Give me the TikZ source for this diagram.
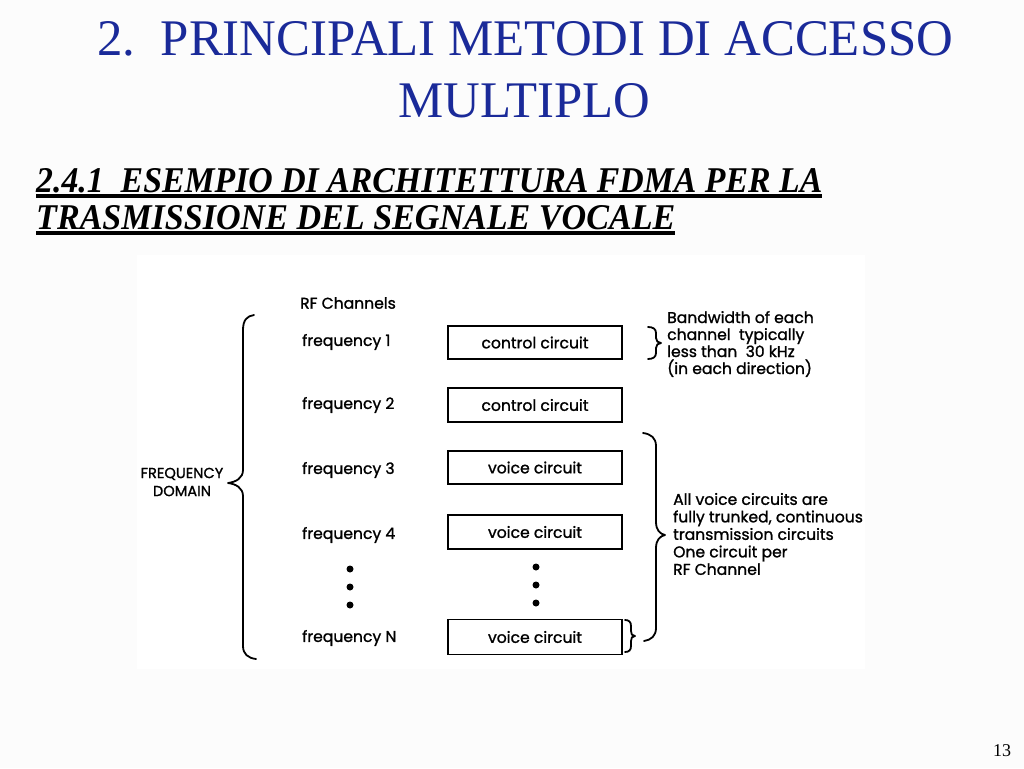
\documentclass[tikz,border=0pt]{standalone}
\usepackage{fontspec}
\setmainfont{Liberation Serif}
\newfontfamily\diagfont[FakeBold=1.2]{Poppins}
\usepackage{graphicx}
\definecolor{titleblue}{RGB}{26,42,153}
\definecolor{slidebg}{RGB}{252,252,252}
\begin{document}
\begin{tikzpicture}[x=1pt,y=-1pt,
  lbl/.style={font=\diagfont\fontsize{15.6}{17}\selectfont, inner sep=0},
  circbox/.style={draw, line width=1.8pt, minimum width=174pt, minimum height=34pt, inner sep=0, font=\diagfont\fontsize{15.6}{17}\selectfont},
  bracepath/.style={line width=1.8pt, line cap=round, line join=round},
  bigdot/.style={circle, fill, inner sep=0, minimum size=7pt},
  uline/.style={line width=3.5pt}]
\useasboundingbox (0,0) rectangle (1024,768);
\fill[slidebg] (0,0) rectangle (1024,768);
\fill[white] (137,255) rectangle (865,669);

% titles
\node[anchor=north west, inner sep=0, text=titleblue] (t1) at (97,21)
  {\resizebox{856pt}{34pt}{2.\ \ PRINCIPALI METODI DI ACCESSO}};
\node[anchor=north west, inner sep=0, text=titleblue] (t2) at (398,83)
  {\resizebox{252pt}{34pt}{MULTIPLO}};
\node[anchor=north west, inner sep=0] (s1) at (36,168)
  {\resizebox{786pt}{24pt}{\bfseries\itshape 2.4.1\ \ ESEMPIO DI ARCHITETTURA FDMA PER LA}};
\node[anchor=north west, inner sep=0] (s2) at (36,205)
  {\resizebox{639pt}{24pt}{\bfseries\itshape TRASMISSIONE DEL SEGNALE VOCALE}};
\draw[uline] (36,196) -- (822,196);
\draw[uline] (36,233) -- (675,233);
\node[font=\fontsize{18}{20}\selectfont, inner sep=0] (pg) at (1002,751) {13};

% diagram
\node[lbl] (rf) at (348,303) {RF Channels};
\node[lbl, anchor=west] (f1) at (302,342) {frequency 1};
\node[lbl, anchor=west] (f2) at (302,405) {frequency 2};
\node[lbl, anchor=west] (f3) at (302,470) {frequency 3};
\node[lbl, anchor=west] (f4) at (302,535) {frequency 4};
\node[lbl, anchor=west] (fN) at (302,638) {frequency N};
\node[bigdot] (dl1) at (350,569) {};
\node[bigdot] (dl2) at (350,587) {};
\node[bigdot] (dl3) at (350,605) {};

\node[circbox, minimum height=33pt] (c1) at (535,342.5) {control circuit};
\node[circbox] (c2) at (535,405) {control circuit};
\node[circbox, minimum height=33pt] (v3) at (535,467.5) {voice circuit};
\node[circbox] (v4) at (535,532) {voice circuit};
\node[circbox, minimum height=35pt] (vN) at (535,637) {voice circuit};
\node[bigdot] (dr1) at (536,567) {};
\node[bigdot] (dr2) at (536,585) {};
\node[bigdot] (dr3) at (536,603) {};

\node[lbl, align=center, font=\diagfont\fontsize{14.6}{18}\selectfont] (fd) at (182,482) {FREQUENCY\\DOMAIN};
\node[lbl, align=left, anchor=west] (bw) at (667,344)
  {Bandwidth of each\\channel\ \ typically\\less than\ \ 30 kHz\\(in each direction)};
\node[lbl, align=left, anchor=west, font=\diagfont\fontsize{15.6}{17.5}\selectfont] (av) at (673,534)
  {All voice circuits are\\fully trunked, continuous\\transmission circuits\\One circuit per\\RF Channel};

% braces
\draw[bracepath] (254,315) .. controls (247,316) and (243,320) .. (243,330) -- (243,470)
  .. controls (243,478) and (236,482) .. (228,483)
  .. controls (236,484) and (243,488) .. (243,496) -- (243,646)
  .. controls (243,654) and (248,658) .. (256,659);
\draw[bracepath] (643,433) .. controls (651,434) and (656,438) .. (656,446) -- (656,522)
  .. controls (656,530) and (660,534) .. (665,535)
  .. controls (660,536) and (656,540) .. (656,548) -- (656,628)
  .. controls (656,636) and (651,640) .. (644,641);
\draw[bracepath] (648,327) .. controls (653,327) and (656,329) .. (656,333) -- (656,338)
  .. controls (656,341) and (658,343) .. (661,343)
  .. controls (658,343) and (656,345) .. (656,348) -- (656,353)
  .. controls (656,357) and (653,359) .. (648,359);
\draw[bracepath] (625,620) .. controls (629,620) and (631,622) .. (631,626) -- (631,631)
  .. controls (631,634) and (632,636) .. (635,636)
  .. controls (632,636) and (631,638) .. (631,641) -- (631,646)
  .. controls (631,650) and (629,652) .. (625,652);
\end{tikzpicture}
\end{document}
